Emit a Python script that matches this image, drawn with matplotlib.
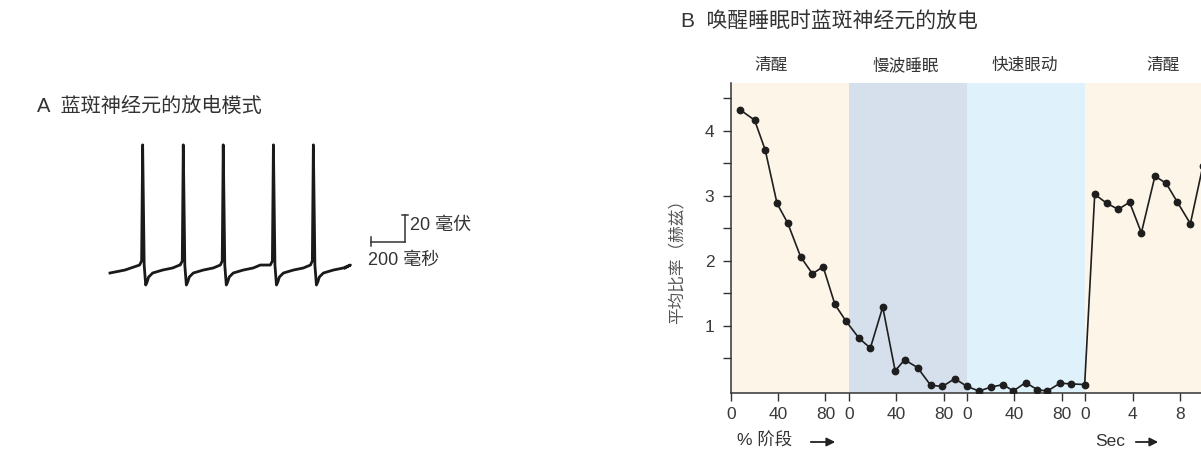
import matplotlib
matplotlib.use("Agg")
import numpy as np
import matplotlib.pyplot as plt
from matplotlib.ticker import FixedLocator

plt.rcParams['font.family'] = ['Liberation Sans', 'Noto Sans CJK SC', 'DejaVu Sans']

# ---- Panel A data: spike train (ms, mV relative to resting level) ----
SPIKE_TIMES = [192, 431, 666, 961, 1196]
TRACE_START = [(0, -5.9), (88, -3.7)]
# one cycle around a spike, offsets in ms from the peak, mV
CYCLE_DT = [-18, -6, 0, 9, 18, 26, 35, 59, 118, 176, 218]
CYCLE_V = [0, 3, 89, 0, -14.8, -12.6, -8.9, -5.9, -3.7, -2.2, 0]
TRACE_END = (1382, -2.2)

# ---- Panel B data: mean firing rate (Hz) ----
WAKE1_PCT = [7.6, 20, 29, 39, 48, 59, 69, 78, 88, 97.5]
WAKE1_HZ = [4.32, 4.16, 3.70, 2.88, 2.58, 2.06, 1.80, 1.91, 1.33, 1.07]
SWS_PCT = [8.5, 18, 28.5, 39, 47, 58, 69, 79, 89.5, 100]
SWS_HZ = [0.81, 0.66, 1.29, 0.31, 0.48, 0.36, 0.09, 0.07, 0.19, 0.07]
REM_PCT = [10, 20, 30.5, 39, 49.5, 59.5, 68, 78.5, 88, 99.5]
REM_HZ = [0.0, 0.06, 0.10, 0.0, 0.13, 0.02, 0.0, 0.12, 0.11, 0.10]
WAKE2_SEC = [0.8, 1.85, 2.8, 3.75, 4.75, 5.9, 6.85, 7.8, 8.9, 9.95]
WAKE2_HZ = [3.02, 2.88, 2.79, 2.90, 2.43, 3.30, 3.19, 2.90, 2.57, 3.45]

STAGES = ["清醒", "慢波睡眠", "快速眼动", "清醒"]
STAGE_BG = ["#fdf6e8", "#d6e0ec", "#dff1fa", "#fdf6e8"]
PCT_TICKS = [40, 80]
SEC_TICKS = [0, 4, 8]

W, H = 1201, 455
fig = plt.figure(figsize=(W / 100, H / 100), dpi=100)


def box(x0, y0, x1, y1):
    # pixel box (top-left origin) -> figure fraction
    return [x0 / W, 1 - y1 / H, (x1 - x0) / W, (y1 - y0) / H]


TXT = "#333333"

# ================= Panel A =================
axA = fig.add_axes(box(100, 130, 480, 300))
t, v = [p[0] for p in TRACE_START], [p[1] for p in TRACE_START]
for ts in SPIKE_TIMES:
    for dt, dv in zip(CYCLE_DT, CYCLE_V):
        if ts + dt > t[-1]:
            t.append(ts + dt)
            v.append(dv)
t.append(TRACE_END[0])
v.append(TRACE_END[1])
axA.plot(t, v, color="#1a1a1a", lw=2.0, solid_joinstyle="round")

# scale bar: 200 ms x 20 mV
sb_x0, sb_y0 = 1535, 17.4
axA.plot([sb_x0, sb_x0 + 200], [sb_y0, sb_y0], color="#333", lw=1.1)
axA.plot([sb_x0 + 200, sb_x0 + 200], [sb_y0, sb_y0 + 20], color="#333", lw=1.1)
axA.plot([sb_x0 + 183, sb_x0 + 218], [sb_y0 + 20, sb_y0 + 20], color="#333", lw=1.1)
axA.plot([sb_x0, sb_x0], [sb_y0 - 3.3, sb_y0 + 3.3], color="#333", lw=1.1)
axA.text(sb_x0 + 230, sb_y0 + 12.2, "20 毫伏", fontsize=13, color=TXT, va="center", ha="left")
axA.text(sb_x0 - 17, sb_y0 - 13.7, "200 毫秒", fontsize=13, color=TXT, va="center", ha="left")

axA.set_xlim(-58.8, 2176)
axA.set_ylim(-25.9, 100)
axA.axis("off")

fig.text(37 / W, 1 - 106 / H, "A  蓝斑神经元的放电模式", fontsize=14.5, color=TXT,
         va="center", ha="left")

# ================= Panel B =================
axB = fig.add_axes(box(731, 83, 1201, 393))

seg = [(0, 100), (100, 200), (200, 300), (300, 420)]
for (a, b), c in zip(seg, STAGE_BG):
    axB.axvspan(a, b, color=c, lw=0, zorder=0)

xs = ([p for p in WAKE1_PCT] + [100 + p for p in SWS_PCT]
      + [200 + p for p in REM_PCT] + [300 + 10 * s for s in WAKE2_SEC])
ys = WAKE1_HZ + SWS_HZ + REM_HZ + WAKE2_HZ
axB.plot(xs, ys, color="#1e1e1e", lw=1.2, marker="o", ms=4.6, zorder=3, clip_on=True)

axB.set_xlim(0, 398)
axB.set_ylim(-0.03, 4.73)

xt = [0] + PCT_TICKS + [100] + [100 + p for p in PCT_TICKS] + [200] + \
     [200 + p for p in PCT_TICKS] + [300 + 10 * s for s in SEC_TICKS]
xl = ["0"] + [str(p) for p in PCT_TICKS] + ["0"] + [str(p) for p in PCT_TICKS] + ["0"] + \
     [str(p) for p in PCT_TICKS] + [str(s) for s in SEC_TICKS]
axB.set_xticks(xt)
axB.set_xticklabels(xl)
axB.set_yticks([1, 2, 3, 4])
axB.yaxis.set_minor_locator(FixedLocator([0.5, 1.5, 2.5, 3.5, 4.5]))
axB.tick_params(axis="both", which="both", direction="out", length=6, width=1,
                color="#333", labelcolor="#3a3a3a", labelsize=12.5)
axB.tick_params(axis="x", pad=4)
axB.tick_params(axis="y", pad=6)
for s in ["top", "right"]:
    axB.spines[s].set_visible(False)
for s in ["left", "bottom"]:
    axB.spines[s].set_color("#333")
    axB.spines[s].set_linewidth(1.1)

fig.text(677 / W, 1 - 257 / H, "平均比率（赫兹）", fontsize=12, color="#555",
         rotation=90, ha="center", va="center")

stage_x = [34, 148, 249, 366]
for name, sx in zip(STAGES, stage_x):
    axB.text(sx, 1.058, name, transform=axB.get_xaxis_transform(), fontsize=12,
             color=TXT, ha="center", va="center")

fig.text(681 / W, 1 - 21 / H, "B  唤醒睡眠时蓝斑神经元的放电", fontsize=15, color=TXT,
         va="center", ha="left")

# axis captions with arrows
fig.text(737 / W, 1 - 441 / H, "% 阶段", fontsize=12.5, color=TXT, va="center", ha="left")
fig.text(1095 / W, 1 - 441 / H, "Sec", fontsize=12.5, color=TXT, va="center", ha="left")
for x0, x1 in [(808, 838), (1133, 1161)]:
    fig.add_artist(matplotlib.patches.FancyArrowPatch(
        (x0 / W, 1 - 442 / H), (x1 / W, 1 - 442 / H), transform=fig.transFigure,
        arrowstyle="-|>,head_length=5,head_width=2.5", color="#222", lw=1.3))

fig.savefig("out.png", dpi=100)
